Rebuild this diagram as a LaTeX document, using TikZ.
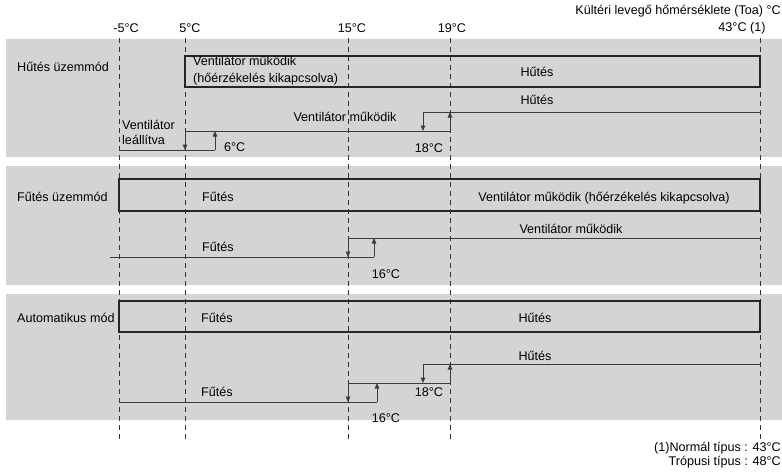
\documentclass[tikz,border=0pt]{standalone}
\usepackage{fontspec}
\setmainfont{Liberation Sans}
\usepackage{tikz}
\usetikzlibrary{arrows.meta}
\definecolor{panelgray}{HTML}{D3D4D6}
\definecolor{linegray}{HTML}{3C3C3C}

\begin{document}
\begin{tikzpicture}[x=1pt, y=-1pt,
    every node/.style={font=\fontsize{12.6}{15}\selectfont, inner sep=0pt},
    panel/.style={fill=panelgray, draw=none},
    modebox/.style={draw=black!85, line width=1.3pt},
    level/.style={draw=linegray, line width=0.9pt},
    switch/.style={level, -{Triangle[length=5.5pt, width=4.5pt]}},
    tempmark/.style={draw=black!80, line width=0.9pt, dash pattern=on 5pt off 4pt}
]
  \useasboundingbox (0,0) rectangle (782,472);

  % Hintergrund der drei Betriebsarten
  \fill[panel] (6,39) rectangle (782,157);
  \fill[panel] (6,166) rectangle (782,285);
  \fill[panel] (6,294) rectangle (782,420);

  % Temperaturachse
  \node[anchor=east] (axis) at (781,11) {Kültéri levegő hőmérséklete (Toa) °C};
  \node (tm5) at (126,28) {-5°C};
  \node (t5) at (190,28) {5°C};
  \node (t15) at (352,28) {15°C};
  \node (t19) at (452,28) {19°C};
  \node (t43) at (742,28) {43°C (1)};
  \foreach \x in {119,185,348,450,760}
    \draw[tempmark] (\x,38) -- (\x,440);

  % Hűtés üzemmód
  \node[anchor=west] (cool) at (17,67) {Hűtés üzemmód};
  \draw[modebox] (185,56) rectangle (760,87);
  \node[anchor=west, align=left, font=\fontsize{12.6}{17}\selectfont] (coolfan) at (193,71)
    {Ventilátor működik\\(hőérzékelés kikapcsolva)};
  \node (coolbox) at (537,72) {Hűtés};
  \node (coolrun) at (537,100) {Hűtés};
  \node (coolfanrun) at (345,117) {Ventilátor működik};
  \node[anchor=west, align=left] (coolstop) at (122,132) {Ventilátor\\leállítva};
  \node[anchor=west] (c6) at (224,147) {6°C};
  \node (c18) at (429,148) {18°C};
  \draw[level] (119,150) -- (215,150);
  \draw[switch] (215,150) -- (215,131);
  \draw[level] (185,131) -- (450,131);
  \draw[switch] (185,131) -- (185,150);
  \draw[switch] (450,131) -- (450,112);
  \draw[level] (423,112) -- (760,112);
  \draw[switch] (423,112) -- (423,131);

  % Fűtés üzemmód
  \node[anchor=west] (heat) at (17,197) {Fűtés üzemmód};
  \draw[modebox] (119,179) rectangle (760,211);
  \node[anchor=west] (heatbox) at (202,197) {Fűtés};
  \node (heatfan) at (604,198) {Ventilátor működik (hőérzékelés kikapcsolva)};
  \node (heatfanrun) at (571,229) {Ventilátor működik};
  \node[anchor=west] (heatrun) at (202,247) {Fűtés};
  \node (h16) at (386,274) {16°C};
  \draw[level] (110,257) -- (374,257);
  \draw[switch] (374,257) -- (374,238);
  \draw[level] (348,238) -- (760,238);
  \draw[switch] (348,238) -- (348,257);

  % Automatikus mód
  \node[anchor=west] (auto) at (17,318) {Automatikus mód};
  \draw[modebox] (119,301) rectangle (760,332);
  \node[anchor=west] (autoheat) at (201,318) {Fűtés};
  \node (autocool) at (535,318) {Hűtés};
  \node (autocoolrun) at (535,356) {Hűtés};
  \node[anchor=west] (autoheatrun) at (201,392) {Fűtés};
  \node (a18) at (429,392) {18°C};
  \node (a16) at (386,418) {16°C};
  \draw[level] (119,402) -- (377,402);
  \draw[switch] (377,402) -- (377,383);
  \draw[level] (348,383) -- (450,383);
  \draw[switch] (348,383) -- (348,402);
  \draw[switch] (450,383) -- (450,364);
  \draw[level] (423,364) -- (760,364);
  \draw[switch] (423,364) -- (423,383);

  % Fußnote
  \node[anchor=east, align=right, font=\fontsize{12.6}{14}\selectfont] (note) at (781,455)
    {(1)Normál típus : 43°C\\Trópusi típus : 48°C};

\end{tikzpicture}
\end{document}
